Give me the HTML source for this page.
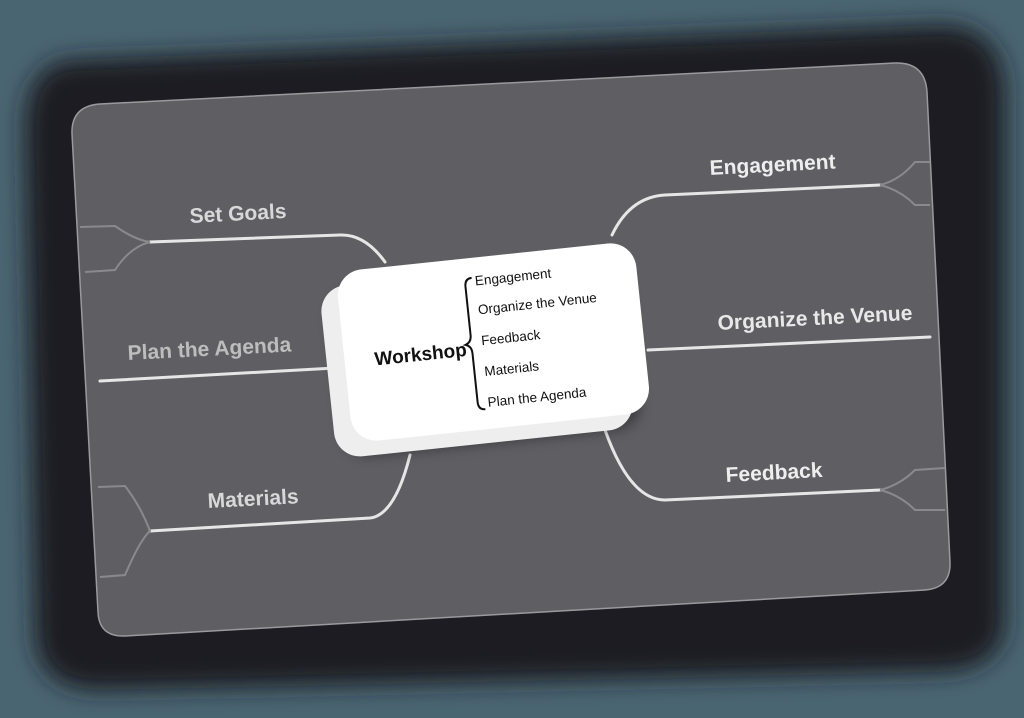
<!DOCTYPE html>
<html><head><style>
html,body{margin:0;padding:0;width:1024px;height:718px;overflow:hidden;background:#4a6572}
svg{display:block}
text{font-family:"Liberation Sans",Arial,sans-serif}
</style></head><body>
<svg width="1024" height="718" viewBox="0 0 1024 718" xmlns="http://www.w3.org/2000/svg">
<defs>
<filter id="blur" x="-20%" y="-20%" width="140%" height="140%"><feGaussianBlur stdDeviation="12"/></filter>
<filter id="cs" x="-20%" y="-20%" width="140%" height="140%"><feGaussianBlur stdDeviation="6"/></filter>
</defs>
<path d="M70 60 L940 25 Q1005 25 1005 95 L1005 620 Q1005 670 940 672 L100 690 Q35 690 35 630 L25 130 Q25 65 70 60Z" fill="#1a1c22" filter="url(#blur)"/>
<path d="M100 104 L895 63 Q925 62 927 92 L950 562 Q951 588 925 590 L125 636 Q99 637 98 612 L72 134 Q71 106 100 104Z" fill="#5f5f63" stroke="#9a9a9e" stroke-width="1.5"/>
<g fill="none" stroke="#e6e6e6" stroke-width="3" stroke-linecap="round">
<path d="M150 242 L340 235 Q365 234 385 262"/>
<path d="M100 381 L335 368"/>
<path d="M150 531 L370 518 Q395 515 410 455"/>
<path d="M612 235 Q630 197 665 195 L880 185"/>
<path d="M648 350 L930 337"/>
<path d="M605 430 Q630 500 665 500 L880 490"/>
</g>
<g fill="none" stroke="#8a8a8e" stroke-width="2">
<path d="M80 227 L115 226 Q135 240 150 242 Q130 247 115 270 L85 272"/>
<path d="M98 487 L125 486 Q140 505 150 531 Q140 540 125 575 L100 577"/>
<path d="M880 185 Q900 180 915 162 L930 162 M880 185 Q900 190 915 205 L930 205"/>
<path d="M880 490 Q900 485 915 470 L945 468 M880 490 Q900 495 915 510 L945 510"/>
</g>
<g font-size="21" fill="#d8d8d8" font-weight="bold">
<text x="190" y="223" transform="rotate(-3 190 223)">Set Goals</text>
<text x="128" y="360" transform="rotate(-3 128 360)" fill="#bdbdbd">Plan the Agenda</text>
<text x="208" y="508" transform="rotate(-3 208 508)">Materials</text>
<text x="710" y="175" transform="rotate(-3 710 175)" fill="#eee">Engagement</text>
<text x="718" y="330" transform="rotate(-3 718 330)" fill="#e8e8e8">Organize the Venue</text>
<text x="726" y="482" transform="rotate(-3 726 482)" fill="#eee">Feedback</text>
</g>
<g transform="translate(3,-12) rotate(-6 490 350)">
<rect x="330" y="285" width="300" height="170" rx="26" fill="#000" opacity="0.35" filter="url(#cs)"/>
<rect x="322" y="282" width="300" height="172" rx="26" fill="#eeeeee"/>
<rect x="340" y="268" width="300" height="172" rx="26" fill="#ffffff"/>
<text x="370" y="365" font-size="19" font-weight="bold" fill="#111">Workshop</text>
<path d="M475 288 Q468 288 468 296 L468 345 Q468 352 462 354 Q468 356 468 363 L468 412 Q468 420 475 420" fill="none" stroke="#111" stroke-width="2"/>
<g font-size="13.5" fill="#111">
<text x="478" y="296">Engagement</text>
<text x="478" y="325">Organize the Venue</text>
<text x="478" y="356">Feedback</text>
<text x="478" y="387">Materials</text>
<text x="478" y="418">Plan the Agenda</text>
</g>
</g>
</svg>
</body></html>
